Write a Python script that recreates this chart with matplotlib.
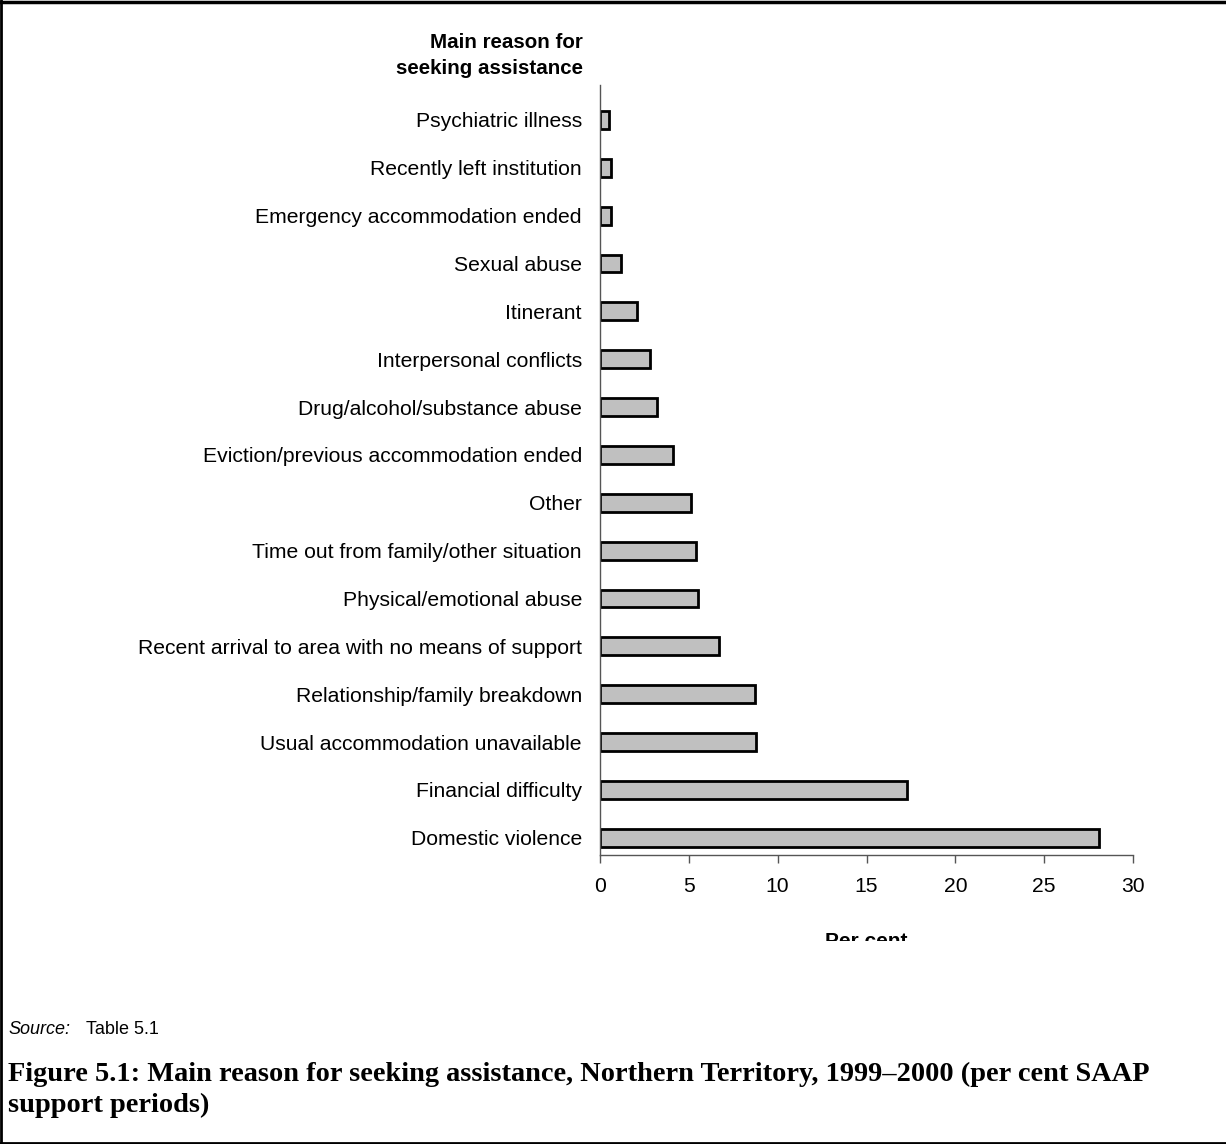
#!/usr/bin/env python3
"""
Main reason for seeking assistance, Northern Territory, 1999-2000
"""

import matplotlib
matplotlib.use('Agg')
import matplotlib.pyplot as plt
from matplotlib.lines import Line2D
from matplotlib.transforms import Bbox

# categories from top to bottom of the chart
reasons = [
    'Psychiatric illness',
    'Recently left institution',
    'Emergency accommodation ended',
    'Sexual abuse',
    'Itinerant',
    'Interpersonal conflicts',
    'Drug/alcohol/substance abuse',
    'Eviction/previous accommodation ended',
    'Other',
    'Time out from family/other situation',
    'Physical/emotional abuse',
    'Recent arrival to area with no means of support',
    'Relationship/family breakdown',
    'Usual accommodation unavailable',
    'Financial difficulty',
    'Domestic violence',
]
per_cent = [0.5, 0.6, 0.6, 1.2, 2.1, 2.8, 3.2, 4.1, 5.1, 5.4, 5.5, 6.7, 8.7, 8.8, 17.3, 28.1]
x_ticks = [0, 5, 10, 15, 20, 25, 30]

W, H = 1226, 1144
fig = plt.figure(figsize=(W / 100, H / 100), dpi=100)
plt.rcParams['font.family'] = ['Liberation Sans', 'DejaVu Sans']

ax = fig.add_axes([600 / W, 1 - 855 / H, 533 / W, 770 / H])

ypos = list(range(len(reasons)))
ax.barh(ypos, per_cent, height=0.375, color='#c0c0c0', edgecolor='black', linewidth=2)
ax.set_ylim(len(reasons) - 1 + 0.36, -0.73)
ax.set_xlim(0, 30)
ax.set_yticks(ypos)
ax.set_yticklabels(reasons, fontsize=15.2)
ax.set_xticks(x_ticks)
ax.set_xticklabels([str(t) for t in x_ticks], fontsize=15.2)
ax.tick_params(axis='y', length=0, pad=13)
ax.tick_params(axis='x', length=6, width=1, color='#555555', direction='out', pad=10)
for side in ('top', 'right'):
    ax.spines[side].set_visible(False)
for side in ('left', 'bottom'):
    ax.spines[side].set_color('#555555')
    ax.spines[side].set_linewidth(1)

# y axis heading above the labels
fig.text(583 / W, 1 - 33 / H, 'Main reason for\nseeking assistance', ha='right', va='top',
         fontsize=14.8, fontweight='bold', linespacing=1.45)

# x axis title, cut off at its lower part as in the source document
t = fig.text(866 / W, 1 - 932 / H, 'Per cent', ha='center', va='top',
             fontsize=15, fontweight='bold')
t.set_clip_box(Bbox.from_extents(0, H - 941, W, H))
t.set_clip_on(True)

# source note
fig.text(8 / W, 1 - 1030 / H, 'Source:', ha='left', va='center', fontsize=13, style='italic')
fig.text(86 / W, 1 - 1030 / H, 'Table 5.1', ha='left', va='center', fontsize=13)

# figure caption
fig.text(8 / W, 1 - 1090 / H,
         'Figure 5.1: Main reason for seeking assistance, Northern Territory, 1999\u20132000 (per cent SAAP\nsupport periods)',
         ha='left', va='center', fontsize=20.4, fontweight='bold',
         family=['Liberation Serif', 'DejaVu Serif'], linespacing=1.3)

# page frame: top, left and bottom edges
fig.add_artist(Line2D([0, 1], [1 - 2 / H, 1 - 2 / H], color='black', lw=2.5, transform=fig.transFigure))
fig.add_artist(Line2D([1.5 / W, 1.5 / W], [0, 1], color='black', lw=2, transform=fig.transFigure))
fig.add_artist(Line2D([0, 1], [1.5 / H, 1.5 / H], color='black', lw=2, transform=fig.transFigure))

fig.savefig('out.png', dpi=100)
